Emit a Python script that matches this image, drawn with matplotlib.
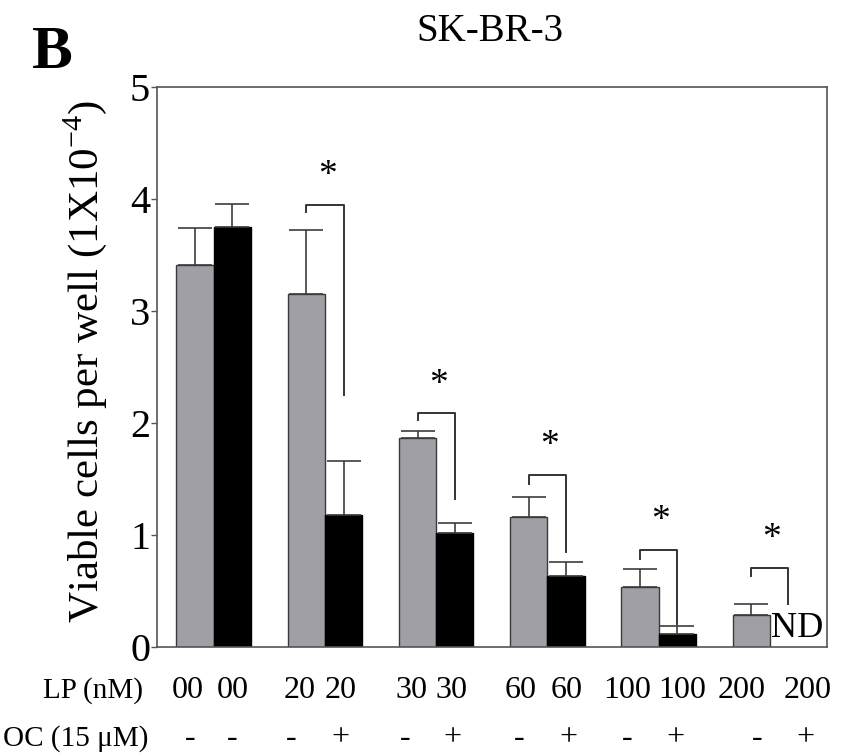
import matplotlib
matplotlib.use('Agg')
import matplotlib.pyplot as plt
import matplotlib.transforms as mtransforms
import numpy as np

plt.rcParams['font.family'] = 'Liberation Serif'
plt.rcParams['mathtext.fontset'] = 'custom'
plt.rcParams['mathtext.rm'] = 'Liberation Serif'

# Celulas viaveis por poco (x 10^4), SK-BR-3
grupos_lp = ['0', '20', '30', '60', '100', '200']          # LP (nM)
sem_oc = [3.41, 3.15, 1.87, 1.16, 0.54, 0.29]              # LP sozinho
sem_oc_err = [0.33, 0.57, 0.06, 0.18, 0.16, 0.09]
com_oc = [3.75, 1.18, 1.02, 0.63, 0.12, np.nan]            # LP + OC 15 uM (ND no ultimo)
com_oc_err = [0.21, 0.48, 0.09, 0.13, 0.07, np.nan]

# rotulos abaixo do eixo
lp_labels = ['00', '00', '20', '20', '30', '30', '60', '60', '100', '100', '200', '200']
oc_labels = ['-', '-', '-', '+', '-', '+', '-', '+', '-', '+', '-', '+']

# colchetes de significancia (*)
sig_grupos = [1, 2, 3, 4, 5]
sig_topo = [3.95, 2.09, 1.54, 0.87, 0.71]
sig_esq = [3.88, 2.03, 1.46, 0.79, 0.63]
sig_dir = [2.25, 1.32, 0.85, 0.21, 0.38]

# posicoes dos rotulos (unidades do eixo x)
lp_x = [0.28, 0.68, 1.28, 1.65, 2.29, 2.65, 3.27, 3.68, 4.23, 4.72, 5.26, 5.85]
oc_x = [0.30, 0.68, 1.21, 1.65, 2.23, 2.66, 3.26, 3.70, 4.23, 4.66, 5.40, 5.83]

pos = np.arange(len(grupos_lp)) + 0.51
w = 0.335
cinza = '#a09fa5'

fig = plt.figure(figsize=(8.52, 7.55))
ax = fig.add_axes([0.1843, 0.1430, 0.7864, 0.7417])

err_kw = dict(ecolor='#3c3c3c', elinewidth=1.2, capsize=12, capthick=1.2)
x_cinza = pos - w / 2
ax.bar(x_cinza, sem_oc, w, color=cinza, edgecolor='#3a3a3a', linewidth=1.0,
       yerr=[np.zeros(len(sem_oc)), sem_oc_err], error_kw=err_kw, zorder=2)

com = np.array(com_oc)
com_e = np.array(com_oc_err)
ok = ~np.isnan(com)
x_preto = pos + w / 2
ax.bar(x_preto[ok], com[ok], w, color='black', edgecolor='black', linewidth=1.0,
       yerr=[np.zeros(ok.sum()), com_e[ok]], error_kw=err_kw, zorder=2)

# ND para o ultimo grupo
for i in np.where(~ok)[0]:
    ax.text(x_preto[i] - w / 2 + 0.01, 0.02, 'ND', ha='left', va='bottom', fontsize=26)

# colchetes e asteriscos
for g, top, le, ri in zip(sig_grupos, sig_topo, sig_esq, sig_dir):
    xl, xr = x_cinza[g], x_preto[g]
    ax.plot([xl, xl, xr, xr], [le, top, top, ri], color='#333333', lw=1.4, zorder=3)
    ax.text((xl + xr) / 2 + 0.02, top + 0.1, '*', ha='center', va='bottom', fontsize=27)

ax.set_xlim(0, 6.025)
ax.set_ylim(0, 5)
ax.set_xticks([])
ax.set_yticks([0, 1, 2, 3, 4, 5])
ax.tick_params(axis='y', labelsize=29, length=4, width=1, pad=1, color='#555555')
for s in ax.spines.values():
    s.set_color('#555555')
    s.set_linewidth(1.2)

ax.set_ylabel('Viable cells per well (1X10$^{\\mathregular{-4}}$)', fontsize=31)
ax.yaxis.set_label_coords(-0.072, 0.51)

# linhas de rotulos LP e OC
trans = mtransforms.blended_transform_factory(ax.transData, ax.transAxes)
for x, t in zip(lp_x, lp_labels):
    ax.text(x, -0.077, t, transform=trans, ha='center', va='center', fontsize=23)
for x, t in zip(oc_x, oc_labels):
    ax.text(x, -0.1625, t, transform=trans, ha='center', va='center', fontsize=23)
ax.text(-0.13, -0.077, 'LP (nM)', transform=trans, ha='right', va='center', fontsize=21)
ax.text(-0.08, -0.1625, 'OC (15 \u03bcM)', transform=trans, ha='right', va='center', fontsize=21)

fig.text(0.575, 0.958, 'SK-BR-3', ha='center', va='center', fontsize=28)
fig.text(0.061, 0.930, 'B', ha='center', va='center', fontsize=44, fontweight='bold')

plt.savefig('out.png', dpi=100)
